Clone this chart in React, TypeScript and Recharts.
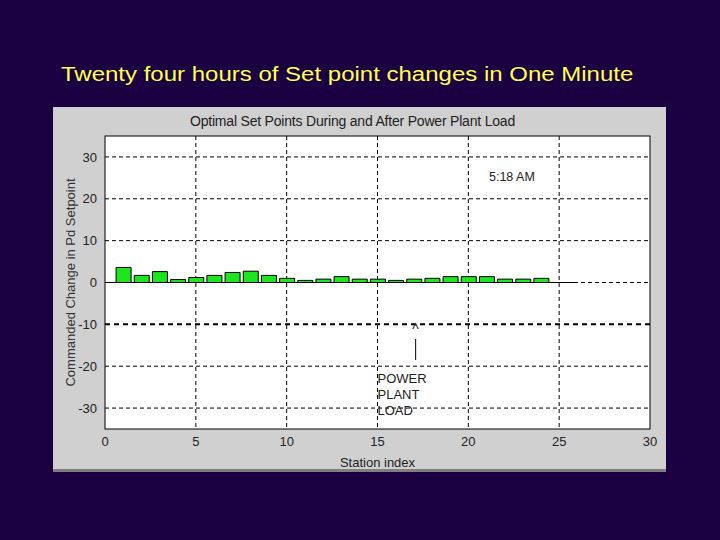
import {
  ComposedChart,
  Bar,
  XAxis,
  YAxis,
  CartesianGrid,
  ReferenceLine,
  ReferenceDot,
} from 'recharts'

const stations = [1, 2, 3, 4, 5, 6, 7, 8, 9, 10, 11, 12, 13, 14, 15, 16, 17, 18, 19, 20, 21, 22, 23, 24, 25]
const setpointChange = [3.6, 1.7, 2.6, 0.7, 1.2, 1.7, 2.4, 2.7, 1.7, 1.0, 0.5, 0.8, 1.4, 0.8, 0.8, 0.5, 0.8, 1.0, 1.4, 1.4, 1.4, 0.8, 0.8, 1.0, 0]
const xTicks = [0, 5, 10, 15, 20, 25, 30]
const yTicks = [-30, -20, -10, 0, 10, 20, 30]
const loadLabel = ['POWER', 'PLANT', 'LOAD']

const data = stations.map((s, i) => ({ station: s, change: setpointChange[i] }))

const FONT = '"Liberation Sans", Arial, sans-serif'
const AXIS_TICK = { fontSize: 13, fill: '#222', fontFamily: FONT }

export default function App() {
  return (
    <div
      style={{
        position: 'fixed',
        left: 0,
        top: 0,
        width: 720,
        height: 540,
        background: '#1a0040',
        fontFamily: FONT,
      }}
    >
      <div
        style={{
          position: 'absolute',
          left: 61,
          top: 63,
          fontSize: 20,
          transform: 'scaleX(1.2)',
          transformOrigin: 'left top',
          color: '#ffff55',
          whiteSpace: 'nowrap',
        }}
      >
        Twenty four hours of Set point changes in One Minute
      </div>

      <div
        style={{
          position: 'absolute',
          left: 53,
          top: 107,
          width: 613,
          height: 362,
          background: '#d0d0d0',
          borderBottom: '3px solid #808080',
        }}
      >
        <div
          style={{
            position: 'absolute',
            left: 0,
            width: 599,
            top: 6,
            textAlign: 'center',
            fontSize: 14,
            color: '#222',
            letterSpacing: -0.2,
          }}
        >
          Optimal Set Points During and After Power Plant Load
        </div>

        <ComposedChart
          width={613}
          height={365}
          data={data}
          margin={{ top: 29, right: 16, bottom: 13, left: 12 }}
          style={{ position: 'absolute', left: 0, top: 0 }}
        >
          <CartesianGrid
            fill="#fff"
            stroke="#000"
            strokeDasharray="4 3"
            verticalValues={[5, 10, 15, 20, 25]}
            horizontalValues={[-30, -20, 0, 10, 20, 30]}
          />
          <XAxis
            dataKey="station"
            type="number"
            domain={[0, 30]}
            ticks={xTicks}
            tick={AXIS_TICK}
            tickLine={false}
            axisLine={false}
            height={30}
            label={{ value: 'Station index', position: 'insideBottom', offset: -8, style: { fontSize: 13, fill: '#222', fontFamily: FONT } }}
          />
          <YAxis
            type="number"
            domain={[-35, 35]}
            ticks={yTicks}
            tick={AXIS_TICK}
            tickLine={false}
            axisLine={false}
            width={40}
            label={{
              value: 'Commanded Change in Pd Setpoint',
              angle: -90,
              position: 'insideLeft',
              offset: 5,
              style: { textAnchor: 'middle', fontSize: 13, fill: '#333', fontFamily: FONT },
            }}
          />
          <ReferenceLine y={-10} stroke="#000" strokeWidth={2} strokeDasharray="5 4" />
          <ReferenceLine segment={[{ x: 0, y: 0 }, { x: 26, y: 0 }]} stroke="#000" />
          <Bar dataKey="change" fill="#1ee61e" stroke="#000" strokeWidth={1} barSize={15} isAnimationActive={false} />
          <ReferenceLine segment={[{ x: 17.1, y: -13.5 }, { x: 17.1, y: -18.5 }]} stroke="#000" />
          <ReferenceDot
            x={22.4}
            y={25.1}
            r={0}
            shape={(p: any) => (
              <text x={p.cx} y={p.cy} textAnchor="middle" dominantBaseline="central" fontSize={12.5} fill="#222" fontFamily={FONT}>
                5:18 AM
              </text>
            )}
          />
          <ReferenceDot
            x={17.1}
            y={-11}
            r={0}
            shape={(p: any) => (
              <text x={p.cx} y={p.cy} textAnchor="middle" dominantBaseline="central" fontSize={14} fill="#222" fontFamily={FONT}>
                ^
              </text>
            )}
          />
          {loadLabel.map((t, i) => (
            <ReferenceDot
              key={t}
              x={15}
              y={-23 - i * 3.8}
              r={0}
              shape={(p: any) => (
                <text x={p.cx} y={p.cy} textAnchor="start" dominantBaseline="central" fontSize={13} fill="#222" fontFamily={FONT}>
                  {t}
                </text>
              )}
            />
          ))}
          <rect x={52} y={29} width={545} height={293} fill="none" stroke="#000" />
        </ComposedChart>
      </div>
    </div>
  )
}
